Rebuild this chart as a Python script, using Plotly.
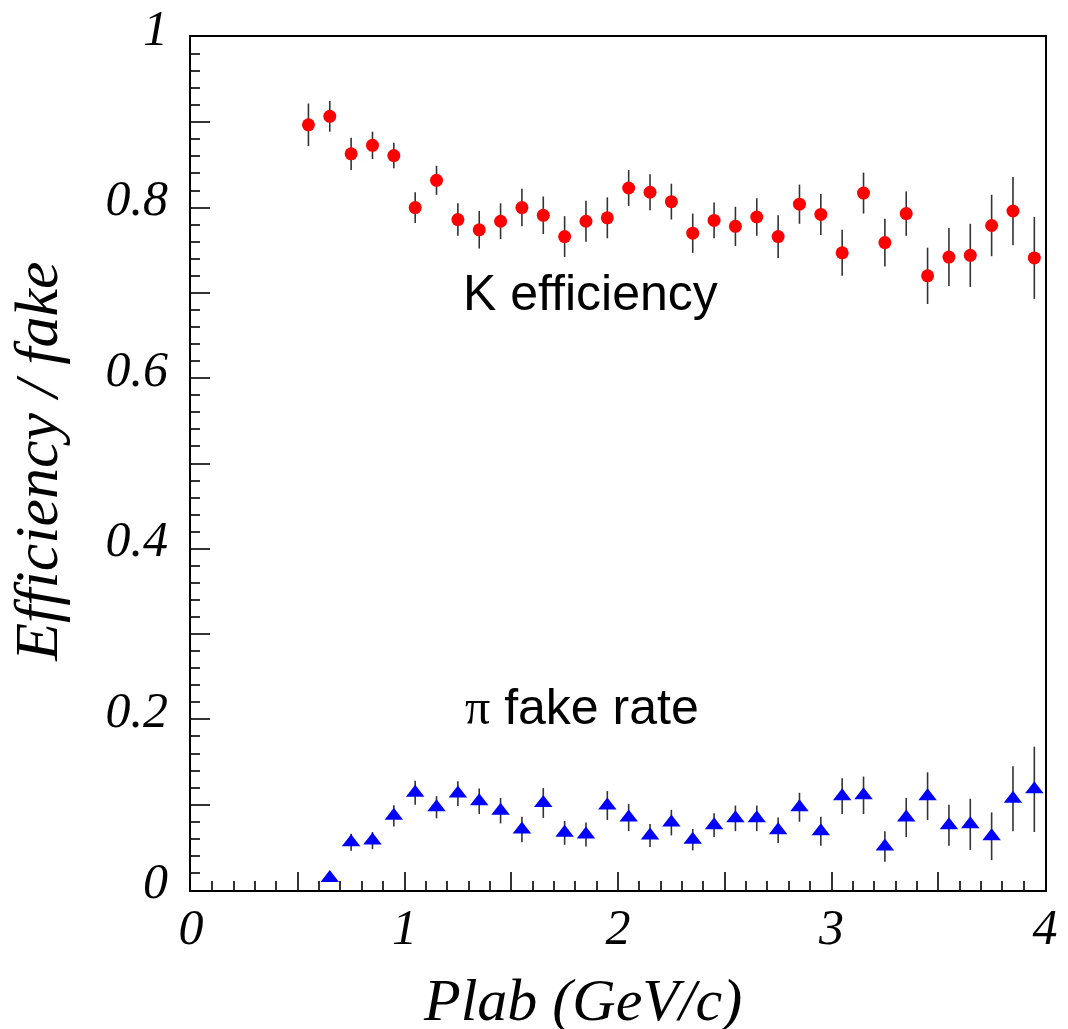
import plotly.graph_objects as go

# ---- data ----
k_p = [0.55, 0.65, 0.75, 0.85, 0.95, 1.05, 1.15, 1.25, 1.35, 1.45, 1.55, 1.65,
       1.75, 1.85, 1.95, 2.05, 2.15, 2.25, 2.35, 2.45, 2.55, 2.65, 2.75, 2.85,
       2.95, 3.05, 3.15, 3.25, 3.35, 3.45, 3.55, 3.65, 3.75, 3.85, 3.95]
k_eff = [0.897, 0.907, 0.863, 0.873, 0.861, 0.800, 0.832, 0.786, 0.774, 0.784,
         0.800, 0.791, 0.766, 0.784, 0.788, 0.823, 0.818, 0.807, 0.770, 0.785,
         0.778, 0.789, 0.766, 0.804, 0.792, 0.747, 0.817, 0.759, 0.793, 0.720,
         0.742, 0.744, 0.779, 0.796, 0.741]
k_err = [0.025, 0.018, 0.019, 0.016, 0.015, 0.018, 0.017, 0.019, 0.022, 0.021,
         0.022, 0.022, 0.024, 0.024, 0.024, 0.021, 0.021, 0.021, 0.023, 0.021,
         0.023, 0.022, 0.025, 0.023, 0.024, 0.027, 0.024, 0.028, 0.026, 0.033,
         0.034, 0.037, 0.036, 0.040, 0.048]

pi_p = [0.65, 0.75, 0.85, 0.95, 1.05, 1.15, 1.25, 1.35, 1.45, 1.55, 1.65,
        1.75, 1.85, 1.95, 2.05, 2.15, 2.25, 2.35, 2.45, 2.55, 2.65, 2.75, 2.85,
        2.95, 3.05, 3.15, 3.25, 3.35, 3.45, 3.55, 3.65, 3.75, 3.85, 3.95]
pi_fake = [0.014, 0.056, 0.058, 0.087, 0.114, 0.097, 0.113, 0.104, 0.093, 0.071,
           0.102, 0.067, 0.065, 0.099, 0.085, 0.064, 0.079, 0.059, 0.076, 0.084,
           0.084, 0.070, 0.097, 0.069, 0.110, 0.111, 0.051, 0.085, 0.110, 0.076,
           0.077, 0.063, 0.107, 0.118]
pi_err = [0.004, 0.010, 0.010, 0.0125, 0.014, 0.013, 0.0145, 0.015, 0.015, 0.015,
          0.0175, 0.014, 0.014, 0.017, 0.016, 0.0135, 0.015, 0.0125, 0.014, 0.015,
          0.015, 0.015, 0.017, 0.017, 0.021, 0.022, 0.018, 0.023, 0.028, 0.024,
          0.030, 0.028, 0.038, 0.050]

x_tickvals = [0, 0.5, 1, 1.5, 2, 2.5, 3, 3.5, 4]
x_ticktext = ["0", "", "1", "", "2", "", "3", "", "4"]
y_tickvals = [0, 0.1, 0.2, 0.3, 0.4, 0.5, 0.6, 0.7, 0.8, 0.9, 1.0]
y_ticktext = ["0", "", "0.2", "", "0.4", "", "0.6", "", "0.8", "", "1"]

serif = "Liberation Serif"
sans = "Liberation Sans"

fig = go.Figure()
fig.add_trace(go.Scatter(
    x=k_p, y=k_eff, mode="markers",
    marker=dict(symbol="circle", size=13, color="#ff0000", line=dict(width=0)),
    error_y=dict(type="data", array=k_err, visible=True, color="#333333",
                 thickness=1.6, width=0),
    showlegend=False))
fig.add_trace(go.Scatter(
    x=pi_p, y=pi_fake, mode="markers",
    marker=dict(symbol="triangle-up", size=16, color="#0000ff", line=dict(width=0)),
    error_y=dict(type="data", array=pi_err, visible=True, color="#333333",
                 thickness=1.6, width=0),
    showlegend=False))

fig.add_annotation(x=1.87, y=0.70, xref="x", yref="y", text="K efficiency",
                   showarrow=False, xanchor="center", yanchor="middle",
                   font=dict(family=sans, size=50, color="black"))
fig.add_annotation(x=1.83, y=0.215, xref="x", yref="y",
                   text="<span style='font-family:Liberation Serif'>π</span> fake rate",
                   showarrow=False, xanchor="center", yanchor="middle",
                   font=dict(family=sans, size=50, color="black"))

fig.add_annotation(x=0.458, y=-0.129, xref="paper", yref="paper",
                   text="Plab (GeV/c)", showarrow=False,
                   xanchor="center", yanchor="middle",
                   font=dict(family=serif, size=60, color="black", style="italic"))
fig.add_annotation(x=-0.1815, y=0.502, xref="paper", yref="paper",
                   text="Efficiency / fake", showarrow=False, textangle=-90,
                   xanchor="center", yanchor="middle",
                   font=dict(family=serif, size=62, color="black", style="italic"))

fig.update_xaxes(range=[0, 4], showgrid=False, zeroline=False,
                 showline=True, linecolor="black", linewidth=2, mirror=True,
                 tickmode="array", tickvals=x_tickvals, ticktext=x_ticktext,
                 ticks="inside", ticklen=18, tickwidth=1.5, tickcolor="#333333",
                 ticklabelstandoff=-8,
                 tickfont=dict(family=serif, size=50, color="black", style="italic"),
                 minor=dict(tickmode="linear", tick0=0, dtick=0.1, ticks="inside",
                            ticklen=9, tickwidth=1.5, tickcolor="#333333",
                            showgrid=False))
fig.update_yaxes(range=[0, 1], showgrid=False, zeroline=False,
                 showline=True, linecolor="black", linewidth=2, mirror=True,
                 tickmode="array", tickvals=y_tickvals, ticktext=y_ticktext,
                 ticks="inside", ticklen=19, tickwidth=1.5, tickcolor="#333333",
                 ticklabelstandoff=11, ticklabelshift=-10,
                 ticklabeloverflow="allow",
                 tickfont=dict(family=serif, size=50, color="black", style="italic"),
                 minor=dict(tickmode="linear", tick0=0, dtick=0.02, ticks="inside",
                            ticklen=9, tickwidth=1.5, tickcolor="#333333",
                            showgrid=False))

# the page body adds an 8 px offset, so the figure is sized to compensate
fig.update_layout(width=1060, height=1021,
                  margin=dict(l=183, r=23, t=29, b=139, autoexpand=False),
                  plot_bgcolor="white", paper_bgcolor="white")

fig.write_html("out.html")
